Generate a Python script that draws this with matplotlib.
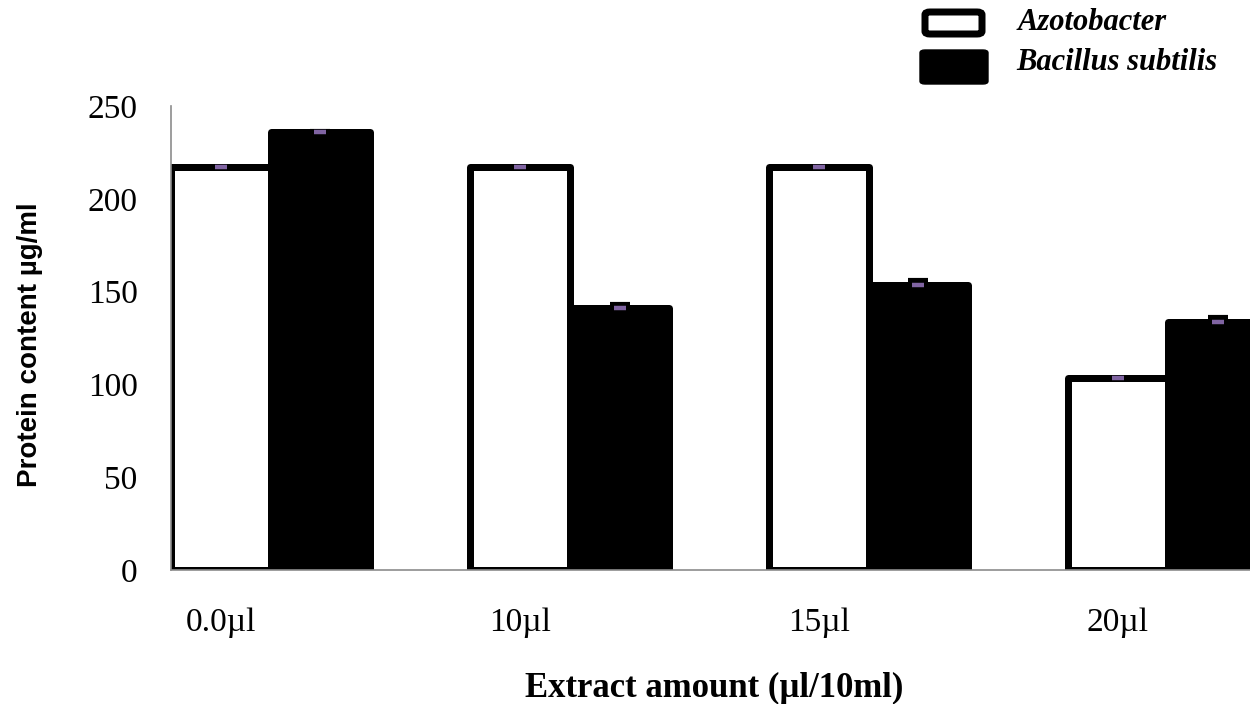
import matplotlib
matplotlib.use("Agg")
import matplotlib.pyplot as plt
from matplotlib.patches import FancyBboxPatch
import numpy as np

categories = ["0.0\u00b5l", "10\u00b5l", "15\u00b5l", "20\u00b5l"]
azotobacter = [217, 217, 217, 103.5]
bacillus = [236, 141, 153.5, 133.5]
azo_err = [0, 0, 0, 0]
bac_err = [0.5, 2.5, 3.0, 3.0]
series_names = ["Azotobacter", "Bacillus subtilis"]
yticks = [0, 50, 100, 150, 200, 250]

W, H = 1250, 704
fig = plt.figure(figsize=(W / 100, H / 100), dpi=100)
ax = fig.add_axes([171 / W, 1 - 570 / H, (W - 171) / W, (570 - 106) / H])

x = np.arange(len(categories))
w = 1 / 3
edge_lw = 7 * 72 / 100

ax.bar(x - w / 2, azotobacter, width=w, color="white", edgecolor="black",
       linewidth=edge_lw, joinstyle="round", zorder=1)
ax.bar(x + w / 2, bacillus, width=w, color="black", edgecolor="black",
       linewidth=edge_lw, joinstyle="round", zorder=1.1)

# black caps of error bars on Bacillus bars
ax.errorbar(x + w / 2, bacillus, yerr=bac_err, fmt="none", ecolor="black",
            elinewidth=0, capsize=7, capthick=3, zorder=1.2)
# purple mean markers
ax.plot(x - w / 2, azotobacter, linestyle="none", marker="_", markersize=8.5,
        markeredgewidth=3.2, color="#8064A2", zorder=3)
ax.plot(x + w / 2, bacillus, linestyle="none", marker="_", markersize=8.5,
        markeredgewidth=3.2, color="#8064A2", zorder=3)

ax.set_xlim(-w, -w + (W - 171) / 299)
ax.set_ylim(0, 250)
ax.set_yticks(yticks)
ax.set_yticklabels([str(v) for v in yticks], fontfamily="Liberation Serif", fontsize=24)
ax.set_xticks(x - w / 2)
ax.set_xticklabels(categories, fontfamily="Liberation Serif", fontsize=24)
ax.tick_params(axis="y", length=0, pad=24)
ax.tick_params(axis="x", length=0, pad=27)

for s in ["top", "right"]:
    ax.spines[s].set_visible(False)
for s in ["left", "bottom"]:
    ax.spines[s].set_color("#8c8c8c")
    ax.spines[s].set_linewidth(1.2)
    ax.spines[s].set_zorder(2.5)

fig.text(714 / W, 1 - 688 / H, "Extract amount (\u00b5l/10ml)", fontfamily="Liberation Serif",
         fontweight="bold", fontsize=25, ha="center", va="center")
fig.text(30 / W, 1 - 345 / H, "Protein content \u00b5g/ml", fontfamily="Liberation Sans",
         fontweight="bold", fontsize=20, rotation=90, ha="center", va="center")

# legend
def px_box(x0, y0, x1, y1, fc):
    p = FancyBboxPatch((x0 / W, 1 - y1 / H), (x1 - x0) / W, (y1 - y0) / H,
                       boxstyle="round,pad=0,rounding_size=0.004",
                       transform=fig.transFigure, facecolor=fc, edgecolor="black",
                       linewidth=edge_lw if fc == "white" else 1)
    fig.add_artist(p)

px_box(925, 12, 982, 34, "white")
px_box(920, 50, 988, 84, "black")
fig.text(1018 / W, 1 - 23 / H, series_names[0], fontfamily="Liberation Serif",
         fontweight="bold", fontstyle="italic", fontsize=22, ha="left", va="center")
fig.text(1016 / W, 1 - 63 / H, series_names[1], fontfamily="Liberation Serif",
         fontweight="bold", fontstyle="italic", fontsize=22, ha="left", va="center")

fig.savefig("out.png", dpi=100)
